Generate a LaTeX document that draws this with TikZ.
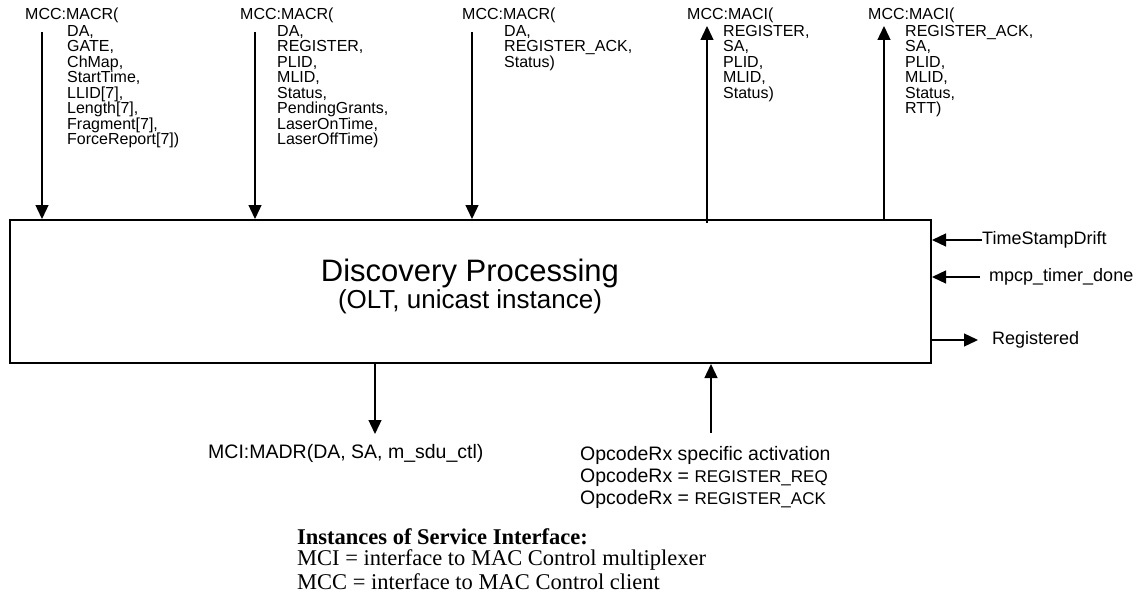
\documentclass[tikz,border=0pt]{standalone}
\usepackage{fontspec}
\setmainfont{Liberation Serif}
\setsansfont{Liberation Sans}
\usetikzlibrary{arrows.meta, positioning}
\tikzset{
    x=1pt, y=-1pt, % one unit per pixel, y runs downwards
    >={Triangle[length=14pt, width=13pt]}, % solid heads
    sig/.style={->, line width=1.3pt}, % every signal arrow
    lbl/.style={font=\sffamily\fontsize{16}{15.5}\selectfont, inner sep=0pt, align=left},
    side/.style={font=\sffamily\fontsize{18}{20}\selectfont, inner sep=0pt, anchor=west},
    low/.style={font=\sffamily\fontsize{19.5}{22}\selectfont, inner sep=0pt, anchor=west},
    note/.style={font=\fontsize{22.5}{22.5}\selectfont, inner sep=0pt, anchor=west},
    block/.style={draw, line width=2pt, minimum width=921pt, minimum height=143pt, inner sep=0pt},
}

\begin{document}
\begin{tikzpicture}
    \useasboundingbox (0,0) rectangle (1143,602);
    % the process block
    \node[block] (disc) at (470.5,291.5) {};
    \node[font=\sffamily\fontsize{31}{31}\selectfont, inner sep=0pt] (title) at (470,273) {Discovery Processing};
    \node[font=\sffamily\fontsize{26}{26}\selectfont, inner sep=0pt] (sub) at (470,302) {(OLT, unicast instance)};

    % requests from the client
    \node[lbl, anchor=base west] (h1) at (25,20) {MCC:MACR(};
    \node[lbl, anchor=north west] (p1) at (67,25) {DA,\\GATE,\\ChMap,\\StartTime,\\LLID[7],\\Length[7],\\Fragment[7],\\ForceReport[7])};
    \node[lbl, anchor=base west] (h2) at (240,20) {MCC:MACR(};
    \node[lbl, anchor=north west] (p2) at (277,25) {DA,\\REGISTER,\\PLID,\\MLID,\\Status,\\PendingGrants,\\LaserOnTime,\\LaserOffTime)};
    \node[lbl, anchor=base west] (h3) at (462,20) {MCC:MACR(};
    \node[lbl, anchor=north west] (p3) at (504,25) {DA,\\REGISTER\_ACK,\\Status)};
    % indications to the client
    \node[lbl, anchor=base west] (h4) at (687,20) {MCC:MACI(};
    \node[lbl, anchor=north west] (p4) at (723,25) {REGISTER,\\SA,\\PLID,\\MLID,\\Status)};
    \node[lbl, anchor=base west] (h5) at (868,20) {MCC:MACI(};
    \node[lbl, anchor=north west] (p5) at (905,25) {REGISTER\_ACK,\\SA,\\PLID,\\MLID,\\Status,\\RTT)};

    \coordinate (s1) at (42,32);
    \coordinate (s2) at (255,32);
    \coordinate (s3) at (472,32);
    \coordinate (s4) at (707,26);
    \coordinate (s5) at (884,26);
    \draw[sig] (s1) -- (s1 |- disc.north);
    \draw[sig] (s2) -- (s2 |- disc.north);
    \draw[sig] (s3) -- (s3 |- disc.north);
    \draw[sig, shorten <=-4pt] (s4 |- disc.north) -- (s4);
    \draw[sig] (s5 |- disc.north) -- (s5);

    % right hand side
    \node[side] (tsd) at (982,240) {TimeStampDrift};
    \node[side] (mtd) at (989,277) {mpcp\_timer\_done};
    \node[side] (reg) at (992,340) {Registered};
    \draw[sig] (tsd.west) -- (tsd.west -| disc.east);
    \draw[sig, shorten <=9pt] (mtd.west) -- (mtd.west -| disc.east);
    \draw[sig, shorten >=14pt] (reg.west -| disc.east) -- (reg.west);

    % multiplexer side
    \node[low] (madr) at (208,453) {MCI:MADR(DA, SA, m\_sdu\_ctl)};
    \node[low, align=left, anchor=north west] (opc) at (580,446) {OpcodeRx specific activation\\OpcodeRx = {\fontsize{17}{22}\selectfont REGISTER\_REQ}\\OpcodeRx = {\fontsize{17}{22}\selectfont REGISTER\_ACK}};
    \coordinate (d1) at (375,434);
    \coordinate (u1) at (711,433);
    \draw[sig] (d1 |- disc.south) -- (d1);
    \draw[sig] (u1) -- (u1 |- disc.south);

    % legend
    \node[note, font=\fontsize{22.5}{22.5}\selectfont\bfseries] (inst) at (297,537) {Instances of Service Interface:};
    \node[note] (mci) at (297,560) {MCI = interface to MAC Control multiplexer};
    \node[note] (mcc) at (297,582) {MCC = interface to MAC Control client};
\end{tikzpicture}
\end{document}
